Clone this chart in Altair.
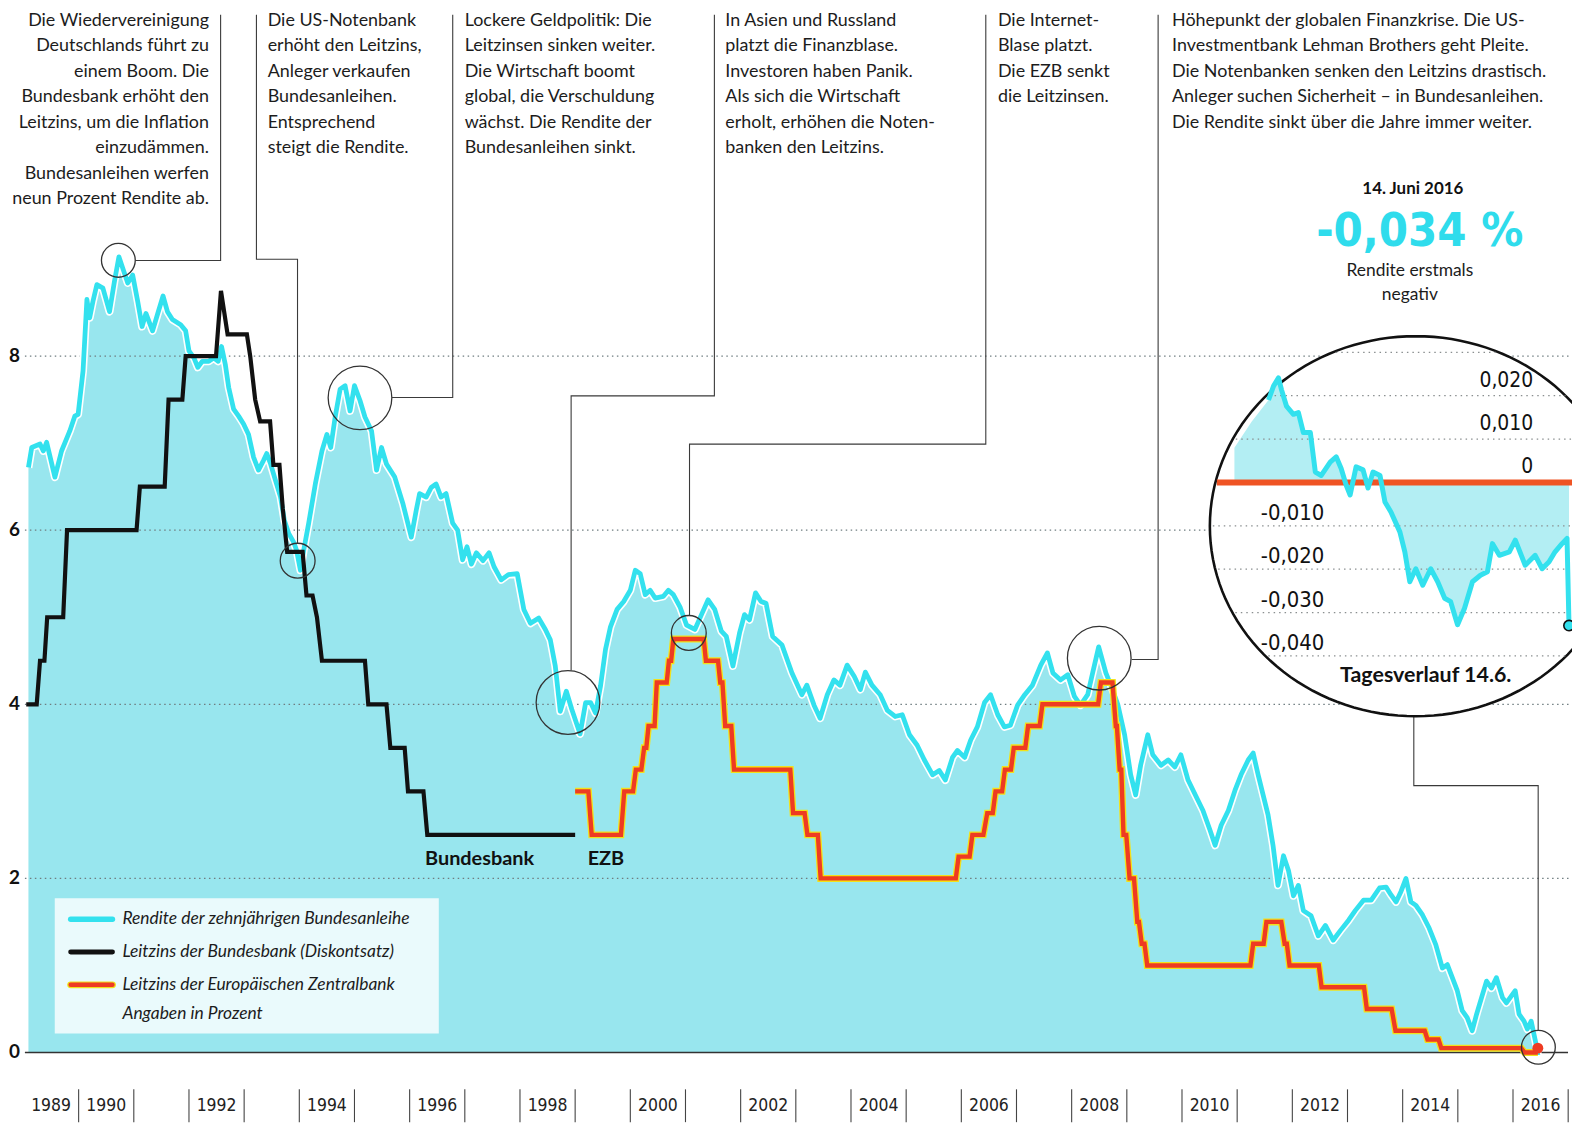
import math
import altair as alt
import pandas as pd

W, H = 1572, 1117

# ---------------- data ----------------
yield_t = [1989.09, 1989.15, 1989.30, 1989.36, 1989.42, 1989.57, 1989.69, 1989.84, 1989.93, 1989.99,
           1990.08, 1990.15, 1990.20, 1990.26, 1990.33, 1990.44, 1990.56, 1990.65, 1990.73, 1990.80,
           1990.89, 1990.98, 1991.07, 1991.15, 1991.22, 1991.34, 1991.43, 1991.53, 1991.61, 1991.70,
           1991.85, 1991.94, 1992.00, 1992.09, 1992.16, 1992.24, 1992.36, 1992.45, 1992.53, 1992.59,
           1992.66, 1992.72, 1992.81, 1992.90, 1992.99, 1993.08, 1993.17, 1993.26, 1993.35, 1993.41,
           1993.48, 1993.55, 1993.66, 1993.73, 1993.81, 1993.90, 1993.95, 1994.02, 1994.08, 1994.17,
           1994.29, 1994.41, 1994.50, 1994.57, 1994.65, 1994.74, 1994.83, 1994.92, 1995.00, 1995.10,
           1995.19, 1995.31, 1995.40, 1995.49, 1995.58, 1995.73, 1995.88, 1996.03, 1996.12, 1996.18,
           1996.30, 1996.39, 1996.48, 1996.57, 1996.66, 1996.78, 1996.87, 1996.96, 1997.04, 1997.12,
           1997.21, 1997.33, 1997.44, 1997.53, 1997.66, 1997.79, 1997.95, 1998.07, 1998.19, 1998.34,
           1998.46, 1998.55, 1998.64, 1998.73, 1998.84, 1998.94, 1999.09, 1999.19, 1999.28, 1999.37,
           1999.46, 1999.55, 1999.64, 1999.76, 1999.88, 2000.00, 2000.09, 2000.18, 2000.27, 2000.36,
           2000.45, 2000.60, 2000.69, 2000.78, 2000.90, 2001.02, 2001.17, 2001.29, 2001.41, 2001.53,
           2001.65, 2001.74, 2001.86, 2001.98, 2002.07, 2002.16, 2002.27, 2002.37, 2002.46, 2002.58,
           2002.75, 2002.93, 2003.11, 2003.20, 2003.33, 2003.44, 2003.57, 2003.69, 2003.80, 2003.93,
           2004.06, 2004.17, 2004.26, 2004.38, 2004.53, 2004.66, 2004.80, 2004.93, 2005.06, 2005.20,
           2005.33, 2005.48, 2005.60, 2005.71, 2005.84, 2005.93, 2006.06, 2006.17, 2006.29, 2006.42,
           2006.53, 2006.66, 2006.78, 2006.89, 2007.02, 2007.15, 2007.29, 2007.44, 2007.56, 2007.66,
           2007.80, 2007.93, 2008.05, 2008.16, 2008.29, 2008.38, 2008.49, 2008.62, 2008.71, 2008.84,
           2008.96, 2009.07, 2009.16, 2009.25, 2009.38, 2009.47, 2009.62, 2009.75, 2009.87, 2009.98,
           2010.11, 2010.24, 2010.38, 2010.51, 2010.60, 2010.71, 2010.84, 2010.96, 2011.07, 2011.20,
           2011.29, 2011.38, 2011.47, 2011.56, 2011.65, 2011.74, 2011.84, 2011.93, 2012.02, 2012.11,
           2012.20, 2012.34, 2012.47, 2012.60, 2012.74, 2012.87, 2013.02, 2013.14, 2013.29, 2013.43,
           2013.58, 2013.70, 2013.79, 2013.88, 2013.97, 2014.06, 2014.15, 2014.24, 2014.36, 2014.48,
           2014.60, 2014.72, 2014.81, 2014.90, 2014.99, 2015.08, 2015.17, 2015.26, 2015.34, 2015.43,
           2015.52, 2015.61, 2015.70, 2015.81, 2015.88, 2016.04, 2016.11, 2016.20, 2016.26, 2016.33,
           2016.38, 2016.43, 2016.45]
yield_v = [6.72, 6.95, 6.99, 6.91, 7.01, 6.61, 6.91, 7.14, 7.31, 7.33,
           7.83, 8.65, 8.44, 8.63, 8.82, 8.78, 8.51, 8.86, 9.14, 9.01,
           8.84, 8.93, 8.63, 8.34, 8.49, 8.29, 8.48, 8.69, 8.51, 8.42,
           8.36, 8.29, 8.06, 7.98, 7.87, 7.94, 7.94, 7.98, 7.94, 8.11,
           7.90, 7.64, 7.39, 7.31, 7.22, 7.10, 6.84, 6.69, 6.80, 6.88,
           6.76, 6.61, 6.38, 6.11, 5.96, 5.86, 5.77, 5.54, 5.77, 6.08,
           6.53, 6.91, 7.10, 6.95, 7.30, 7.62, 7.66, 7.37, 7.66, 7.49,
           7.30, 7.14, 6.69, 6.95, 6.76, 6.61, 6.30, 5.92, 6.23, 6.42,
           6.38, 6.49, 6.53, 6.38, 6.42, 6.08, 6.00, 5.66, 5.81, 5.61,
           5.74, 5.65, 5.74, 5.58, 5.43, 5.49, 5.50, 5.09, 4.93, 4.99,
           4.86, 4.74, 4.44, 3.92, 4.15, 3.94, 3.66, 4.02, 4.02, 3.90,
           4.21, 4.63, 4.89, 5.09, 5.18, 5.31, 5.54, 5.50, 5.26, 5.31,
           5.22, 5.24, 5.31, 5.26, 5.12, 4.91, 4.86, 5.03, 5.20, 5.09,
           4.84, 4.78, 4.44, 4.82, 5.03, 4.97, 5.28, 5.18, 5.16, 4.78,
           4.68, 4.36, 4.11, 4.22, 3.99, 3.84, 4.11, 4.28, 4.22, 4.45,
           4.32, 4.17, 4.37, 4.22, 4.11, 3.93, 3.86, 3.88, 3.65, 3.53,
           3.36, 3.19, 3.24, 3.13, 3.39, 3.47, 3.39, 3.59, 3.74, 4.02,
           4.11, 3.88, 3.74, 3.76, 3.99, 4.11, 4.22, 4.45, 4.59, 4.36,
           4.28, 4.34, 4.09, 3.99, 4.11, 4.36, 4.66, 4.36, 4.22, 3.99,
           3.65, 3.19, 2.96, 3.30, 3.65, 3.42, 3.30, 3.36, 3.28, 3.42,
           3.13, 2.96, 2.78, 2.55, 2.38, 2.61, 2.78, 3.01, 3.19, 3.36,
           3.44, 3.19, 2.96, 2.73, 2.38, 1.92, 2.26, 2.09, 1.80, 1.92,
           1.63, 1.57, 1.34, 1.46, 1.29, 1.40, 1.52, 1.63, 1.75, 1.75,
           1.89, 1.90, 1.81, 1.73, 1.85, 2.00, 1.73, 1.69, 1.58, 1.43,
           1.24, 0.97, 1.01, 0.86, 0.71, 0.48, 0.40, 0.25, 0.44, 0.63,
           0.82, 0.74, 0.86, 0.63, 0.57, 0.71, 0.44, 0.36, 0.27, 0.36,
           0.21, 0.06, -0.03]

bbk_t = [1989.05, 1989.24, 1989.30, 1989.38, 1989.43, 1989.72, 1989.79, 1991.05, 1991.11, 1991.56,
         1991.63, 1991.88, 1991.94, 1992.49, 1992.58, 1992.70, 1993.05, 1993.11, 1993.20, 1993.29,
         1993.47, 1993.53, 1993.64, 1993.70, 1993.78, 1994.06, 1994.13, 1994.24, 1994.32, 1994.41,
         1995.19, 1995.25, 1995.58, 1995.65, 1995.91, 1995.97, 1996.25, 1996.32, 1999.00]
bbk_v = [4.0, 4.0, 4.5, 4.5, 5.0, 5.0, 6.0, 6.0, 6.5, 6.5,
         7.5, 7.5, 8.0, 8.0, 8.75, 8.25, 8.25, 8.0, 7.5, 7.25,
         7.25, 6.75, 6.75, 6.25, 5.75, 5.75, 5.25, 5.25, 5.0, 4.5,
         4.5, 4.0, 4.0, 3.5, 3.5, 3.0, 3.0, 2.5, 2.5]

ecb_start = [1999.00, 1999.30, 1999.89, 2000.10, 2000.25, 2000.33, 2000.48, 2000.70, 2000.78, 2001.37,
             2001.63, 2001.72, 2001.88, 2002.95, 2003.21, 2003.45, 2005.95, 2006.20, 2006.47, 2006.62,
             2006.79, 2006.95, 2007.21, 2007.47, 2008.53, 2008.80, 2008.87, 2008.94, 2009.05, 2009.19,
             2009.27, 2009.37, 2011.29, 2011.53, 2011.86, 2011.95, 2012.53, 2013.35, 2013.87, 2014.45,
             2014.70, 2016.21]
ecb_end = [1999.24, 1999.83, 2000.05, 2000.20, 2000.29, 2000.44, 2000.66, 2000.74, 2001.33, 2001.59,
           2001.67, 2001.83, 2002.90, 2003.16, 2003.40, 2005.90, 2006.15, 2006.40, 2006.57, 2006.74,
           2006.90, 2007.16, 2007.42, 2008.48, 2008.74, 2008.82, 2008.90, 2008.99, 2009.13, 2009.22,
           2009.32, 2011.24, 2011.48, 2011.80, 2011.90, 2012.48, 2013.30, 2013.80, 2014.40, 2014.65,
           2016.15, 2016.45]
ecb_rate = [3.0, 2.5, 3.0, 3.25, 3.5, 3.75, 4.25, 4.5, 4.75, 4.5,
            4.25, 3.75, 3.25, 2.75, 2.5, 2.0, 2.25, 2.5, 2.75, 3.0,
            3.25, 3.5, 3.75, 4.0, 4.25, 3.75, 3.25, 2.5, 2.0, 1.5,
            1.25, 1.0, 1.25, 1.5, 1.25, 1.0, 0.75, 0.5, 0.25, 0.15,
            0.05, 0.0]

grid_vals = [2, 4, 6, 8]
y_tick_vals = [0, 2, 4, 6, 8]
year_labels = [1989, 1990, 1992, 1994, 1996, 1998, 2000, 2002, 2004, 2006, 2008, 2010, 2012, 2014, 2016]
year_bars = [1990, 1991, 1992, 1993, 1994, 1995, 1996, 1997, 1998, 1999, 2000, 2001, 2002, 2003,
             2004, 2005, 2006, 2007, 2008, 2009, 2010, 2011, 2012, 2013, 2014, 2015, 2016, 2017]

# intraday 14.6.2016 (hour of day, yield in %)
inset_h = [8.594, 8.739, 8.884, 8.971, 9.116, 9.319, 9.464, 9.609, 9.812, 9.957,
           10.130, 10.391, 10.565, 10.710, 10.855, 10.971, 11.145, 11.348, 11.493, 11.638,
           11.841, 11.986, 12.159, 12.420, 12.565, 12.710, 12.884, 13.087, 13.319, 13.522,
           13.725, 13.899, 14.101, 14.304, 14.536, 14.768, 14.971, 15.116, 15.319, 15.609,
           15.783, 16.072, 16.362, 16.565, 16.768, 16.942, 17.145, 17.290, 17.348]
inset_v = [0.0190, 0.0222, 0.0241, 0.0214, 0.0176, 0.0157, 0.0161, 0.0115, 0.0115, 0.0024,
           0.0016, 0.0047, 0.0059, 0.0032, -0.0006, -0.0029, 0.0036, 0.0029, -0.0013, 0.0024,
           0.0016, -0.0045, -0.0068, -0.0114, -0.0160, -0.0229, -0.0199, -0.0237, -0.0199, -0.0229,
           -0.0267, -0.0275, -0.0328, -0.0290, -0.0229, -0.0214, -0.0206, -0.0141, -0.0168, -0.0160,
           -0.0133, -0.0191, -0.0168, -0.0199, -0.0183, -0.0160, -0.0141, -0.0129, -0.0330]
inset_lead_h = [7.60, 8.10]
inset_lead_v = [0.008, 0.014]
inset_grid = [0.03, 0.02, 0.01, -0.01, -0.02, -0.03, -0.04]
inset_pos_labels = [0.02, 0.01, 0.0]
inset_neg_labels = [-0.01, -0.02, -0.03, -0.04]

texts_left = [
    (269, "Die US-Notenbank\nerhöht den Leitzins,\nAnleger verkaufen\nBundesanleihen.\nEntsprechend\nsteigt die Rendite."),
    (467, "Lockere Geldpolitik: Die\nLeitzinsen sinken weiter.\nDie Wirtschaft boomt\nglobal, die Verschuldung\nwächst. Die Rendite der\nBundesanleihen sinkt."),
    (729, "In Asien und Russland\nplatzt die Finanzblase.\nInvestoren haben Panik.\nAls sich die Wirtschaft\nerholt, erhöhen die Noten-\nbanken den Leitzins."),
    (1003, "Die Internet-\nBlase platzt.\nDie EZB senkt\ndie Leitzinsen."),
    (1178, "Höhepunkt der globalen Finanzkrise. Die US-\nInvestmentbank Lehman Brothers geht Pleite.\nDie Notenbanken senken den Leitzins drastisch.\nAnleger suchen Sicherheit – in Bundesanleihen.\nDie Rendite sinkt über die Jahre immer weiter."),
]
text_right = (210, "Die Wiedervereinigung\nDeutschlands führt zu\neinem Boom. Die\nBundesbank erhöht den\nLeitzins, um die Inflation\neinzudämmen.\nBundesanleihen werfen\nneun Prozent Rendite ab.")

legend_labels = ["Rendite der zehnjährigen Bundesanleihe",
                 "Leitzins der Bundesbank (Diskontsatz)",
                 "Leitzins der Europäischen Zentralbank",
                 "Angaben in Prozent"]

# annotation circles on the series: (year, value, diameter px)
mark_t = [1990.72, 1993.97, 1995.10, 1998.87, 2001.06, 2008.50, 2016.46]
mark_v = [9.10, 5.65, 7.52, 4.02, 4.82, 4.53, 0.06]
mark_d = [34, 35, 64, 64, 35, 64, 34]

# ---------------- styling constants ----------------
FONT = "Lato, 'Open Sans', sans-serif"
COND = "'DejaVu Sans Condensed', 'DejaVu Sans', sans-serif"
CYAN = "#33e1ee"
CYAN_FILL = "#98e6ee"
RED = "#ee3b22"
YELLOW = "#f2e21a"
INK = "#1c1c1c"

XT = alt.Scale(domain=[1988.7196, 2017.0694], nice=False, zero=False)
YV = alt.Scale(domain=[-0.8, 11.9657], nice=False, zero=False)
XH = alt.Scale(domain=[-28.13, 17.435], nice=False, zero=False)
YI = alt.Scale(domain=[-0.14748, 0.10872], nice=False, zero=False)
PX = alt.Scale(domain=[8, 1580], nice=False, zero=False)
PY = alt.Scale(domain=[8, 1125], reverse=True, nice=False, zero=False)


def X(f, s):
    return alt.X(f"{f}:Q", scale=s, axis=None)


def Y(f, s):
    return alt.Y(f"{f}:Q", scale=s, axis=None)


layers = []

# ---- main series ----
ydf = pd.DataFrame({"t": yield_t, "v": yield_v})
layers.append(alt.Chart(ydf).mark_area(color=CYAN_FILL, opacity=1).encode(
    x=X("t", XT), y=Y("v", YV), y2=alt.datum(0)))

gdf = pd.DataFrame({"v": grid_vals})
layers.append(alt.Chart(gdf).mark_rule(color="#6f7d80", strokeWidth=1.2, strokeDash=[1.5, 3.5]).encode(
    y=Y("v", YV), x=alt.value(17), x2=alt.value(W)))

layers.append(alt.Chart(pd.DataFrame({"v": [0]})).mark_rule(color="#333", strokeWidth=1.6).encode(
    y=Y("v", YV), x=alt.value(17), x2=alt.value(1568)))

layers.append(alt.Chart(ydf).mark_line(color="white", strokeWidth=8, strokeJoin="round").encode(
    x=X("t", XT), y=Y("v", YV)))
layers.append(alt.Chart(ydf).mark_line(color=CYAN, strokeWidth=4.8, strokeJoin="round").encode(
    x=X("t", XT), y=Y("v", YV)))

bdf = pd.DataFrame({"t": bbk_t, "v": bbk_v})
layers.append(alt.Chart(bdf).mark_line(color="#111", strokeWidth=4.2, strokeJoin="miter").encode(
    x=X("t", XT), y=Y("v", YV)))

ecb_t, ecb_v = [], []
for s, e, r in zip(ecb_start, ecb_end, ecb_rate):
    ecb_t += [s, e]
    ecb_v += [r, r]
edf = pd.DataFrame({"t": ecb_t, "v": ecb_v})
layers.append(alt.Chart(edf).mark_line(color=YELLOW, strokeWidth=7, strokeJoin="miter").encode(
    x=X("t", XT), y=Y("v", YV)))
layers.append(alt.Chart(edf).mark_line(color=RED, strokeWidth=4.4, strokeJoin="miter").encode(
    x=X("t", XT), y=Y("v", YV)))

layers.append(alt.Chart(pd.DataFrame({"t": [ecb_end[-1]], "v": [0.05]})).mark_point(
    shape="circle", filled=True, color=RED, size=120, opacity=1).encode(x=X("t", XT), y=Y("v", YV)))

mdf = pd.DataFrame({"t": mark_t, "v": mark_v, "s": [d * d for d in mark_d]})
layers.append(alt.Chart(mdf).mark_point(shape="circle", filled=False, color="#333", strokeWidth=1.3,
                                        opacity=1).encode(
    x=X("t", XT), y=Y("v", YV), size=alt.Size("s:Q", scale=None, legend=None)))

# ---- connectors (page pixels) ----
conns = [
    [(221.7, 12), (221.7, 259), (136, 259)],
    [(257.7, 12), (257.7, 257.7), (299, 257.7), (299, 543.5)],
    [(455, 12), (455, 396.7), (394, 396.7)],
    [(718, 12), (718, 395), (574, 395), (574, 671)],
    [(990.8, 12), (990.8, 443.5), (693, 443.5), (693, 616)],
    [(1164, 12), (1164, 660), (1137.5, 660)],
    [(1421, 717), (1421, 786.7), (1546, 786.7), (1546, 1033)],
]
rows = []
for k, c in enumerate(conns):
    for i, (a, b) in enumerate(c):
        rows.append({"px": a, "py": b, "seg": k, "i": i})
layers.append(alt.Chart(pd.DataFrame(rows)).mark_line(color="#3a3a3a", strokeWidth=1.1).encode(
    x=X("px", PX), y=Y("py", PY), detail="seg:N", order="i:Q"))

# ---- legend ----
layers.append(alt.Chart(pd.DataFrame({"px": [55], "px2": [441], "py": [900], "py2": [1036]})).mark_rect(
    color="white", opacity=0.8).encode(x=X("px", PX), x2="px2:Q", y=Y("py", PY), y2="py2:Q"))
leg_y = [921, 954, 987]
for yy, col, w in [(leg_y[0], CYAN, 5.5), (leg_y[1], "#111", 5), (leg_y[2], YELLOW, 7), (leg_y[2], RED, 4.5)]:
    layers.append(alt.Chart(pd.DataFrame({"px": [71], "px2": [113], "py": [yy]})).mark_rule(
        color=col, strokeWidth=w, strokeCap="round").encode(x=X("px", PX), x2="px2:Q", y=Y("py", PY)))
ldf = pd.DataFrame({"px": [123] * 4, "py": leg_y + [1016], "txt": legend_labels})
layers.append(alt.Chart(ldf).mark_text(align="left", baseline="middle", font=FONT, fontSize=17.5,
                                       fontStyle="italic", color=INK).encode(
    x=X("px", PX), y=Y("py", PY), text="txt:N"))

# ---- series labels ----
layers.append(alt.Chart(pd.DataFrame({"px": [482, 609], "py": [861, 861], "txt": ["Bundesbank", "EZB"]})).mark_text(
    align="center", baseline="middle", font=FONT, fontSize=20, fontWeight="bold", color="#111").encode(
    x=X("px", PX), y=Y("py", PY), text="txt:N"))

# ---- axes drawn by hand ----
layers.append(alt.Chart(pd.DataFrame({"v": y_tick_vals, "lab": [str(v) for v in y_tick_vals]})).mark_text(
    align="left", baseline="middle", font=FONT, fontSize=19, fontWeight="bold", color="#111").encode(
    y=Y("v", YV), x=alt.value(1), text="lab:N"))
layers.append(alt.Chart(pd.DataFrame({"t": [y + 0.5 for y in year_labels],
                                      "lab": [str(y) for y in year_labels]})).mark_text(
    align="center", baseline="middle", font=COND, fontSize=17.5, color="#222").encode(
    x=X("t", XT), y=alt.value(1101), text="lab:N"))
layers.append(alt.Chart(pd.DataFrame({"t": year_bars})).mark_rule(color="#444", strokeWidth=1.1).encode(
    x=X("t", XT), y=alt.value(1084), y2=alt.value(1117)))

# ---- text blocks ----
tl = pd.DataFrame({"px": [a for a, _ in texts_left], "py": [9] * len(texts_left),
                   "txt": [b for _, b in texts_left]})
layers.append(alt.Chart(tl).mark_text(align="left", baseline="top", font=FONT, fontSize=18, lineHeight=25.6,
                                      lineBreak="\n", color=INK).encode(
    x=X("px", PX), y=Y("py", PY), text="txt:N"))
layers.append(alt.Chart(pd.DataFrame({"px": [text_right[0]], "py": [9], "txt": [text_right[1]]})).mark_text(
    align="right", baseline="top", font=FONT, fontSize=18, lineHeight=25.6, lineBreak="\n", color=INK).encode(
    x=X("px", PX), y=Y("py", PY), text="txt:N"))

# ---- inset (slightly elliptical, as printed) ----
CX, CY, RX, RY = 1423, 526, 207, 191
ratio = RY / RX
pts = []
for k in range(144):
    a = 2 * math.pi * k / 144
    pts.append("%.4f,%.4f" % (math.cos(a), ratio * math.sin(a)))
ELLIPSE = "M" + " L".join(pts) + " Z"
layers.append(alt.Chart(pd.DataFrame({"px": [CX], "py": [CY]})).mark_point(
    shape=ELLIPSE, filled=True, fill="white", stroke="#111", strokeWidth=2.6, size=(2 * RX) ** 2,
    opacity=1, fillOpacity=1).encode(x=X("px", PX), y=Y("py", PY)))

iadf = pd.DataFrame({"h": inset_lead_h + inset_h, "iv": inset_lead_v + inset_v})
layers.append(alt.Chart(iadf).mark_area(color="#b3eef3", opacity=1).encode(
    x=X("h", XH), y=Y("iv", YI), y2=alt.datum(0)))


def chord(iv):
    yf = 482 - iv * 4360
    dy = (yf - CY) / RY
    dx = RX * math.sqrt(max(1 - dy * dy, 0))
    return CX - dx, min(CX + dx, 1580)


grows = []
for g in inset_grid:
    a, b = chord(g)
    grows.append({"iv": g, "px": a + 3, "px2": b})
layers.append(alt.Chart(pd.DataFrame(grows)).mark_rule(color="#8a8f90", strokeWidth=1.2,
                                                       strokeDash=[1.5, 4]).encode(
    x=X("px", PX), x2="px2:Q", y=Y("iv", YI)))
za, zb = chord(0.0)
layers.append(alt.Chart(pd.DataFrame({"iv": [0.0], "px": [za + 1.5], "px2": [zb]})).mark_rule(
    color="#ef5424", strokeWidth=6).encode(x=X("px", PX), x2="px2:Q", y=Y("iv", YI)))

ildf = pd.DataFrame({"h": inset_h, "iv": inset_v})
layers.append(alt.Chart(ildf).mark_line(color=CYAN, strokeWidth=5, strokeJoin="round").encode(
    x=X("h", XH), y=Y("iv", YI)))
layers.append(alt.Chart(ildf.tail(1)).mark_point(shape="circle", filled=True, fill=CYAN, stroke="#111",
                                                 strokeWidth=1.6, size=110, opacity=1).encode(
    x=X("h", XH), y=Y("iv", YI)))


def fmt(v):
    if v == 0:
        return "0"
    return ("%.3f" % v).replace(".", ",")


layers.append(alt.Chart(pd.DataFrame({"iv": inset_pos_labels, "lab": [fmt(v) for v in inset_pos_labels]})).mark_text(
    align="right", baseline="middle", dy=-15, font=COND, fontSize=21, color="#111").encode(
    y=Y("iv", YI), x=alt.value(1541 - 8), text="lab:N"))
layers.append(alt.Chart(pd.DataFrame({"iv": inset_neg_labels, "lab": [fmt(v) for v in inset_neg_labels]})).mark_text(
    align="right", baseline="middle", dy=-13, font=COND, fontSize=22, color="#111").encode(
    y=Y("iv", YI), x=alt.value(1331 - 8), text="lab:N"))
layers.append(alt.Chart(pd.DataFrame({"px": [1433], "py": [677], "txt": ["Tagesverlauf 14.6."]})).mark_text(
    align="center", baseline="middle", font=FONT, fontSize=21.5, fontWeight="bold", color="#111").encode(
    x=X("px", PX), y=Y("py", PY), text="txt:N"))

# ---- headline of the inset ----
layers.append(alt.Chart(pd.DataFrame({"px": [1420], "py": [187], "txt": ["14. Juni 2016"]})).mark_text(
    align="center", baseline="middle", font=FONT, fontSize=17, fontWeight="bold", color="#111").encode(
    x=X("px", PX), y=Y("py", PY), text="txt:N"))
layers.append(alt.Chart(pd.DataFrame({"px": [1427], "py": [230], "txt": ["-0,034 %"]})).mark_text(
    align="center", baseline="middle", font=COND, fontSize=47, fontWeight="bold", color="#2fdcec").encode(
    x=X("px", PX), y=Y("py", PY), text="txt:N"))
layers.append(alt.Chart(pd.DataFrame({"px": [1417], "py": [261], "txt": ["Rendite erstmals\nnegativ"]})).mark_text(
    align="center", baseline="top", font=FONT, fontSize=17.5, lineHeight=23.5, lineBreak="\n", color=INK).encode(
    x=X("px", PX), y=Y("py", PY), text="txt:N"))

chart = alt.layer(*layers).resolve_scale(x="independent", y="independent").properties(
    width=W, height=H, autosize=alt.AutoSizeParams(type="none"), padding=0,
    background="white").configure_view(stroke=None)

chart.save("out.html", embed_options={"renderer": "svg", "actions": False})
